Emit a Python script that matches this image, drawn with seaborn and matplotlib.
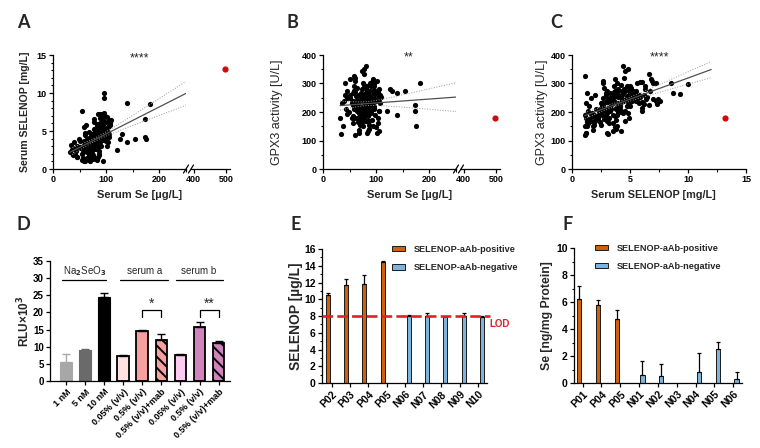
import numpy as np
import pandas as pd
import seaborn as sns
import matplotlib.pyplot as plt
import matplotlib.transforms as mtransforms
from matplotlib.ticker import MultipleLocator

sns.set_theme(style="ticks")
plt.rcParams['font.family'] = ['Liberation Sans', 'DejaVu Sans']
plt.rcParams['font.weight'] = 'bold'
plt.rcParams['axes.labelweight'] = 'bold'
plt.rcParams['axes.linewidth'] = 0.9
plt.rcParams['axes.edgecolor'] = 'black'
plt.rcParams['xtick.color'] = 'black'
plt.rcParams['ytick.color'] = 'black'
plt.rcParams['hatch.linewidth'] = 1.4

# ---- A-C: serum values of the cohort (Se, SELENOP, GPX3 per patient) ----
se_ugl = [32, 34, 36, 38, 40, 42, 44, 46, 48, 50, 77, 63, 69, 42, 76, 67, 87, 56, 71, 72,
          59, 75, 61, 86, 60, 72, 46, 86, 58, 80, 67, 71, 56, 64, 68, 81, 66, 67, 94, 73,
          82, 62, 71, 54, 69, 68, 84, 58, 55, 56,
          64, 88, 73, 88, 59, 91, 56, 80, 80, 82, 77, 87, 51, 80, 74, 90, 58, 85, 65, 86,
          80, 78, 73, 65, 82, 74, 103, 59, 77, 83, 56, 76, 75, 94, 60, 76, 63, 85, 87, 77,
          71, 85, 50, 86, 79, 88, 74, 64, 63, 85, 97, 63, 60, 67, 80, 73, 99, 59, 75, 78,
          62, 85, 71, 95, 61, 74, 46, 120, 125, 130, 101, 85, 106, 70, 100, 69, 92,
          84, 103, 88, 83, 62, 95, 105, 81, 88, 68, 108, 82, 106, 82, 81, 105, 60, 95, 95, 91,
          82, 92, 77, 96, 88, 109, 79, 94, 82, 96, 82, 106, 83, 105, 77, 93, 97, 92, 86, 58,
          95, 85, 108, 80, 78, 74, 81, 104,
          55, 93, 98, 94, 88, 78, 90, 102, 85, 88, 96, 172, 182, 140, 140, 155, 172, 175, 95, 96]
selenop_mgl = [2.2, 3.1, 2.6, 1.8, 3.6, 2.0, 2.4, 1.6, 4.0, 2.9, 1.5, 2.2, 1.3, 2.7, 1.9, 1.2, 2.4, 1.4, 2.1, 1.7,
               2.8, 1.3, 2.5, 1.9, 1.1, 2.3, 1.6, 2.0, 1.2, 2.6, 1.8, 1.4, 2.2, 1.5, 2.9, 1.3, 2.4, 1.7, 1.1, 2.1,
               1.2, 2.7, 1.4, 2.0, 1.1, 2.5, 1.6, 1.1, 1.2, 1.3,
               3.3, 4.0, 3.0, 3.8, 2.6, 4.4, 3.5, 2.9, 4.1, 3.2, 3.7, 4.3, 2.7, 3.4, 4.0, 3.0, 3.6, 4.4, 2.8, 3.9,
               3.3, 4.2, 3.1, 3.8, 2.6, 4.5, 3.5, 3.0, 4.1, 3.4, 2.7, 3.9, 3.2, 4.3, 3.6, 2.9, 4.0, 3.3, 3.8, 2.6,
               4.4, 3.1, 3.7, 4.2, 3.0, 3.5, 4.0, 2.8, 3.4, 4.3, 3.9, 3.2, 2.7, 4.1, 3.6, 3.0, 4.4, 3.7, 3.3, 4.2,
               3.5, 2.9, 4.0, 3.8, 4.5, 3.4, 3.0, 2.5, 4.0, 4.6, 3.0, 3.5, 4.2, 2.5, 3.7, 3.2, 3.8,
               4.8, 5.5, 6.0, 5.0, 5.8, 4.7, 6.3, 5.2, 5.6, 4.9, 6.1, 5.3, 4.6, 5.9, 5.1, 6.4, 4.8, 5.4, 6.0, 4.7,
               5.7, 5.0, 6.2, 4.9, 5.5, 6.5, 5.2, 4.6, 5.8, 6.3, 5.0, 5.6, 4.8, 6.0, 5.3, 5.9, 5.1, 6.2, 4.7, 5.5,
               6.0, 5.0, 5.8, 4.4, 4.8, 4.6, 4.6, 4.9,
               7.6, 7.2, 7.0, 6.8, 7.3, 6.6, 7.0, 6.9, 7.2, 6.7, 7.4, 6.6, 8.5, 8.7, 3.5, 4.0, 4.2, 3.9, 10.0, 9.3]
gpx3_ul = [180, 122, 230, 150, 240, 258, 210, 250, 200, 260, 175, 180, 165, 300, 190, 125, 200, 160, 175, 185,
           210, 150, 230, 155, 118, 195, 192, 170, 180, 210, 138, 205, 185, 220, 235, 168, 165, 195, 150, 210,
           125, 220, 162, 180, 190, 200, 170, 328, 230, 268,
           205, 230, 180, 255, 220, 195, 240, 265, 210, 235, 185, 275, 250, 225, 260, 205, 290, 240, 175, 230,
           265, 200, 245, 215, 190, 280, 160, 235, 255, 210, 225, 300, 180, 245, 270, 200, 220, 250, 140, 230,
           265, 215, 315, 235, 170, 252, 205, 285, 228, 258, 188, 242, 310, 222, 262, 198, 238, 275, 218, 295,
           232, 185, 252, 210, 320, 248, 272, 205, 280, 275, 125, 135, 132, 155, 148, 162, 172,
           245, 270, 235, 290, 255, 220, 280, 240, 300, 260, 230, 275, 205, 252, 285, 245, 235, 265, 215, 290,
           248, 222, 260, 278, 238, 252, 258, 242, 230, 290, 268, 255, 198, 202, 248, 305, 262, 228, 255, 275,
           305, 235, 260, 360, 350, 345, 170, 178,
           238, 300, 245, 315, 228, 332, 300, 310, 240, 275, 245, 225, 300, 265, 190, 272, 202, 150, 298, 262]
assert len(se_ugl) == len(selenop_mgl) == len(gpx3_ul)

# index patient (red dot)
index_se = 495
index_selenop = 13.2
index_gpx3 = 178

# ---- D: reporter assay ----
d_keys = ['se1', 'se5', 'se10', 'a005', 'a05', 'a05m', 'b005', 'b05', 'b05m']
d_labels = ['1 nM', '5 nM', '10 nM', '0.05% (v/v)', '0.5% (v/v)', '0.5% (v/v)+mab',
            '0.05% (v/v)', '0.5% (v/v)', '0.5% (v/v)+mab']
d_mean = [5.6, 8.9, 24.5, 7.2, 14.6, 12.1, 7.5, 15.8, 11.0]
d_sd = [2.3, 0.5, 1.2, 0.5, 0.4, 1.7, 0.3, 1.3, 0.8]
d_colors = ['#A7A7A7', '#6A6A6A', '#000000', '#FFE1E1', '#F6A1A0', '#F6A1A0',
            '#FBCBF2', '#D183BE', '#D183BE']
d_edges = ['#A7A7A7', '#6A6A6A', 'black', 'black', 'black', 'black', 'black', 'black', 'black']
d_hatched = ['a05m', 'b05m']

# ---- E / F: patients with / without autoantibodies ----
aab_groups = ['SELENOP-aAb-positive', 'SELENOP-aAb-negative']
aab_colors = ['#D0600C', '#7DB3DD']
e_samples = ['P02', 'P03', 'P04', 'P05', 'N06', 'N07', 'N08', 'N09', 'N10']
e_mean = [10.5, 11.7, 11.8, 14.5, 8.0, 8.0, 7.9, 8.0, 7.85]
e_sd = [0.2, 0.7, 1.1, 0.1, 0.1, 0.3, 0.0, 0.4, 0.2]
e_lod = 8
f_samples = ['P01', 'P04', 'P05', 'N01', 'N02', 'N03', 'N04', 'N05', 'N06']
f_mean = [6.22, 5.8, 4.74, 0.62, 0.52, 0.0, 0.84, 2.49, 0.3]
f_sd = [0.94, 0.37, 0.64, 1.03, 0.86, 0.0, 1.38, 0.57, 0.51]

W, H = 760, 448
fig = plt.figure(figsize=(W / 100, H / 100), dpi=100)


def add_ax(left, top, right, bottom, **kw):
    # axes from pixel box
    return fig.add_axes([left / W, (H - bottom) / H, (right - left) / W, (bottom - top) / H], **kw)


def fit_band(x, y, x0, x1):
    x = np.asarray(x, float)
    y = np.asarray(y, float)
    slope, icpt = np.polyfit(x, y, 1)
    xs = np.linspace(x0, x1, 100)
    n = len(x)
    s = np.sqrt(np.sum((y - (icpt + slope * x)) ** 2) / (n - 2))
    se = s * np.sqrt(1 / n + (xs - x.mean()) ** 2 / np.sum((x - x.mean()) ** 2))
    yhat = icpt + slope * xs
    return xs, yhat, yhat - 1.97 * se, yhat + 1.97 * se


def style_ax(ax, size):
    sns.despine(ax=ax)
    ax.tick_params(which='major', length=3, width=0.9, labelsize=size, pad=1.5)
    ax.tick_params(which='minor', length=1.8, width=0.8)


def draw_fit(ax, x, y, x1):
    xs, yhat, lo, hi = fit_band(x, y, min(x), x1)
    ax.plot(xs, lo, color='#9A9A9A', lw=0.7, ls=':')
    ax.plot(xs, hi, color='#9A9A9A', lw=0.7, ls=':')
    ax.plot(xs, yhat, color='#505050', lw=0.9)


def slash(ax, xfrac, wpx, hpx):
    ax.plot([xfrac - 2.5 / wpx, xfrac + 2.5 / wpx], [-4 / hpx, 4 / hpx], transform=ax.transAxes,
            color='black', lw=0.9, clip_on=False)


def broken_scatter(x0px, y, ylim, ymaj, ymin, y_index, ylabel, ylabel_x, ylabel_bold):
    ax = add_ax(x0px, 55, x0px + 133, 169)
    tail = add_ax(x0px + 138, 55, x0px + 177, 169, sharey=ax)
    sns.scatterplot(x=se_ugl, y=y, color='black', s=14, linewidth=0, ax=ax)
    draw_fit(ax, se_ugl, y, 250)
    sns.scatterplot(x=[index_se], y=[y_index], color='#D10A0A', s=20, linewidth=0, ax=tail)
    ax.set_xlim(0, 250)
    ax.set_ylim(*ylim)
    ax.xaxis.set_major_locator(MultipleLocator(100))
    ax.xaxis.set_minor_locator(MultipleLocator(50))
    ax.yaxis.set_major_locator(MultipleLocator(ymaj))
    ax.yaxis.set_minor_locator(MultipleLocator(ymin))
    tail.set_xlim(392, 511)
    tail.set_xticks([400, 500])
    style_ax(ax, 6.5)
    style_ax(tail, 6.5)
    tail.spines['left'].set_visible(False)
    tail.tick_params(axis='y', which='both', left=False, labelleft=False)
    slash(ax, 1.0, 133, 114)
    slash(tail, 0.0, 39, 114)
    ax.set_xlabel('Serum Se [µg/L]', fontsize=8)
    ax.xaxis.set_label_coords(0.654, -0.184)
    ax.set_ylabel(ylabel, fontsize=7.6 if ylabel_bold else 9,
                  fontweight='bold' if ylabel_bold else 'normal')
    ax.yaxis.set_label_coords(ylabel_x, 0.5)
    return ax


# A
ax_a = broken_scatter(53, selenop_mgl, (0, 15), 5, 1, index_selenop, 'Serum SELENOP [mg/L]', -0.17, True)
ax_a.text(163, 14.6, '****', ha='center', va='center', fontsize=9, fontweight='normal')

# B
ax_b = broken_scatter(323, gpx3_ul, (0, 400), 100, 50, index_gpx3, 'GPX3 activity [U/L]', -0.30, False)
ax_b.text(161, 390, '**', ha='center', va='center', fontsize=9, fontweight='normal')

# C
ax_c = add_ax(572, 55, 746, 169)
sns.scatterplot(x=selenop_mgl, y=gpx3_ul, color='black', s=14, linewidth=0, ax=ax_c)
draw_fit(ax_c, selenop_mgl, gpx3_ul, 12)
sns.scatterplot(x=[index_selenop], y=[index_gpx3], color='#D10A0A', s=20, linewidth=0, ax=ax_c)
ax_c.set_xlim(0, 15)
ax_c.set_ylim(0, 400)
ax_c.xaxis.set_major_locator(MultipleLocator(5))
ax_c.xaxis.set_minor_locator(MultipleLocator(2.5))
ax_c.yaxis.set_major_locator(MultipleLocator(100))
ax_c.yaxis.set_minor_locator(MultipleLocator(50))
style_ax(ax_c, 6.5)
ax_c.set_xlabel('Serum SELENOP [mg/L]', fontsize=7.8)
ax_c.xaxis.set_label_coords(0.47, -0.184)
ax_c.set_ylabel('GPX3 activity [U/L]', fontsize=9, fontweight='normal')
ax_c.yaxis.set_label_coords(-0.138, 0.5)
ax_c.text(7.5, 390, '****', ha='center', va='center', fontsize=9, fontweight='normal')

# D
ax_d = add_ax(50, 261, 230, 381)
sns.barplot(x=d_keys, y=d_mean, hue=d_keys, palette=d_colors, legend=False, saturation=1,
            width=0.62, ax=ax_d)
bars = sorted(ax_d.patches, key=lambda p: p.get_x())
for i, p in enumerate(bars):
    p.set_edgecolor(d_edges[i])
    p.set_linewidth(1.3 if i > 2 else 0.8)
    if d_keys[i] in d_hatched:
        p.set_hatch('\\\\\\')
    cx = p.get_x() + p.get_width() / 2
    ax_d.errorbar(cx, p.get_height(), yerr=[[0], [d_sd[i]]], fmt='none', ecolor=d_edges[i],
                  elinewidth=1, capsize=3, capthick=1, zorder=1)
ax_d.set_xlim(-0.85, 8.6)
ax_d.set_ylim(0, 35)
ax_d.yaxis.set_major_locator(MultipleLocator(5))
style_ax(ax_d, 7)
ax_d.set_xticks(range(len(d_labels)))
ax_d.set_xticklabels(d_labels, rotation=45, ha='right', rotation_mode='anchor', fontsize=6.5)
ax_d.set_ylabel('RLU×10$^3$', fontsize=8.5)
ax_d.yaxis.set_label_coords(-0.1, 0.5)
for (x0, x1), name in zip([(-0.2, 2.1), (2.84, 5.37), (5.74, 8.21)],
                          ['Na$_2$SeO$_3$', 'serum a', 'serum b']):
    ax_d.plot([x0, x1], [29.4, 29.4], color='black', lw=0.9, clip_on=False)
    ax_d.text((x0 + x1) / 2, 32.2, name, ha='center', va='center', fontsize=7, fontweight='normal')
for a, b, stars in [(4, 5, '*'), (7, 8, '**')]:
    ax_d.plot([a, a, b, b], [18.7, 20.7, 20.7, 18.7], color='black', lw=0.9)
    ax_d.text((a + b) / 2, 22.6, stars, ha='center', va='center', fontsize=10, fontweight='normal')


def aab_bars(ax, samples, means, sds, width, gap):
    df = pd.DataFrame({'sample': samples, 'value': means,
                       'group': [aab_groups[0] if s.startswith('P') else aab_groups[1] for s in samples]})
    sns.barplot(data=df, x='sample', y='value', hue='group', hue_order=aab_groups,
                palette=aab_colors, dodge=True, width=width, gap=gap, saturation=1,
                edgecolor='#1A1A1A', linewidth=0.7, errorbar=None, ax=ax)
    for p in ax.patches:
        h = p.get_height()
        if not np.isfinite(h) or h <= 0:
            p.set_visible(False)
            continue
        cx = p.get_x() + p.get_width() / 2
        sd = sds[int(round(cx))]
        if sd > 0:
            ax.errorbar(cx, h, yerr=[[0], [sd]], fmt='none', ecolor='black',
                        elinewidth=0.9, capsize=1.6, capthick=0.9, zorder=1)
    ax.set_xlabel('')
    style_ax(ax, 7.5)
    ax.set_xticks(range(len(samples)))
    ax.set_xticklabels(samples, rotation=45, ha='right', rotation_mode='anchor', fontsize=7.5)


# E
ax_e = add_ax(322, 249, 487, 383)
aab_bars(ax_e, e_samples, e_mean, e_sd, 0.88, 0.5)
ax_e.set_xlim(-0.53, 8.49)
ax_e.set_ylim(0, 16)
ax_e.yaxis.set_major_locator(MultipleLocator(2))
ax_e.yaxis.set_minor_locator(MultipleLocator(1))
ax_e.axhline(e_lod, xmin=0, xmax=1.02, color='#E3202A', lw=1.9, ls=(0, (4, 1.6)),
             clip_on=False, zorder=3)
ax_e.text(1.015, 7.0, 'LOD', color='#E3202A', fontsize=7, va='center', ha='left',
          transform=mtransforms.blended_transform_factory(ax_e.transAxes, ax_e.transData))
ax_e.set_ylabel('SELENOP [µg/L]', fontsize=10)
ax_e.yaxis.set_label_coords(-0.115, 0.5)
sns.move_legend(ax_e, 'upper left', bbox_to_anchor=(0.424, 1.03), frameon=False, title=None,
                fontsize=6.6, handlelength=1.45, handleheight=0.5, handletextpad=0.9,
                labelspacing=1.0, borderaxespad=0, borderpad=0)

# F
ax_f = add_ax(574, 248, 742, 383)
aab_bars(ax_f, f_samples, f_mean, f_sd, 0.72, 0.36)
ax_f.set_xlim(-0.46, 8.47)
ax_f.set_ylim(0, 10)
ax_f.yaxis.set_major_locator(MultipleLocator(2))
ax_f.yaxis.set_minor_locator(MultipleLocator(1))
ax_f.set_ylabel('Se [ng/mg Protein]', fontsize=8.8)
ax_f.yaxis.set_label_coords(-0.125, 0.5)
sns.move_legend(ax_f, 'upper left', bbox_to_anchor=(0.125, 1.03), frameon=False, title=None,
                fontsize=6.6, handlelength=1.45, handleheight=0.5, handletextpad=0.9,
                labelspacing=1.0, borderaxespad=0, borderpad=0)

# panel letters
for letter, x, y in [('A', 17, 14), ('B', 287, 14), ('C', 550, 14),
                     ('D', 17, 216), ('E', 290, 216), ('F', 562, 216)]:
    fig.text(x / W, 1 - y / H, letter, ha='left', va='top', fontsize=13,
             fontfamily=['Lato', 'DejaVu Sans'], fontweight='bold')

fig.savefig('out.png', dpi=100)
